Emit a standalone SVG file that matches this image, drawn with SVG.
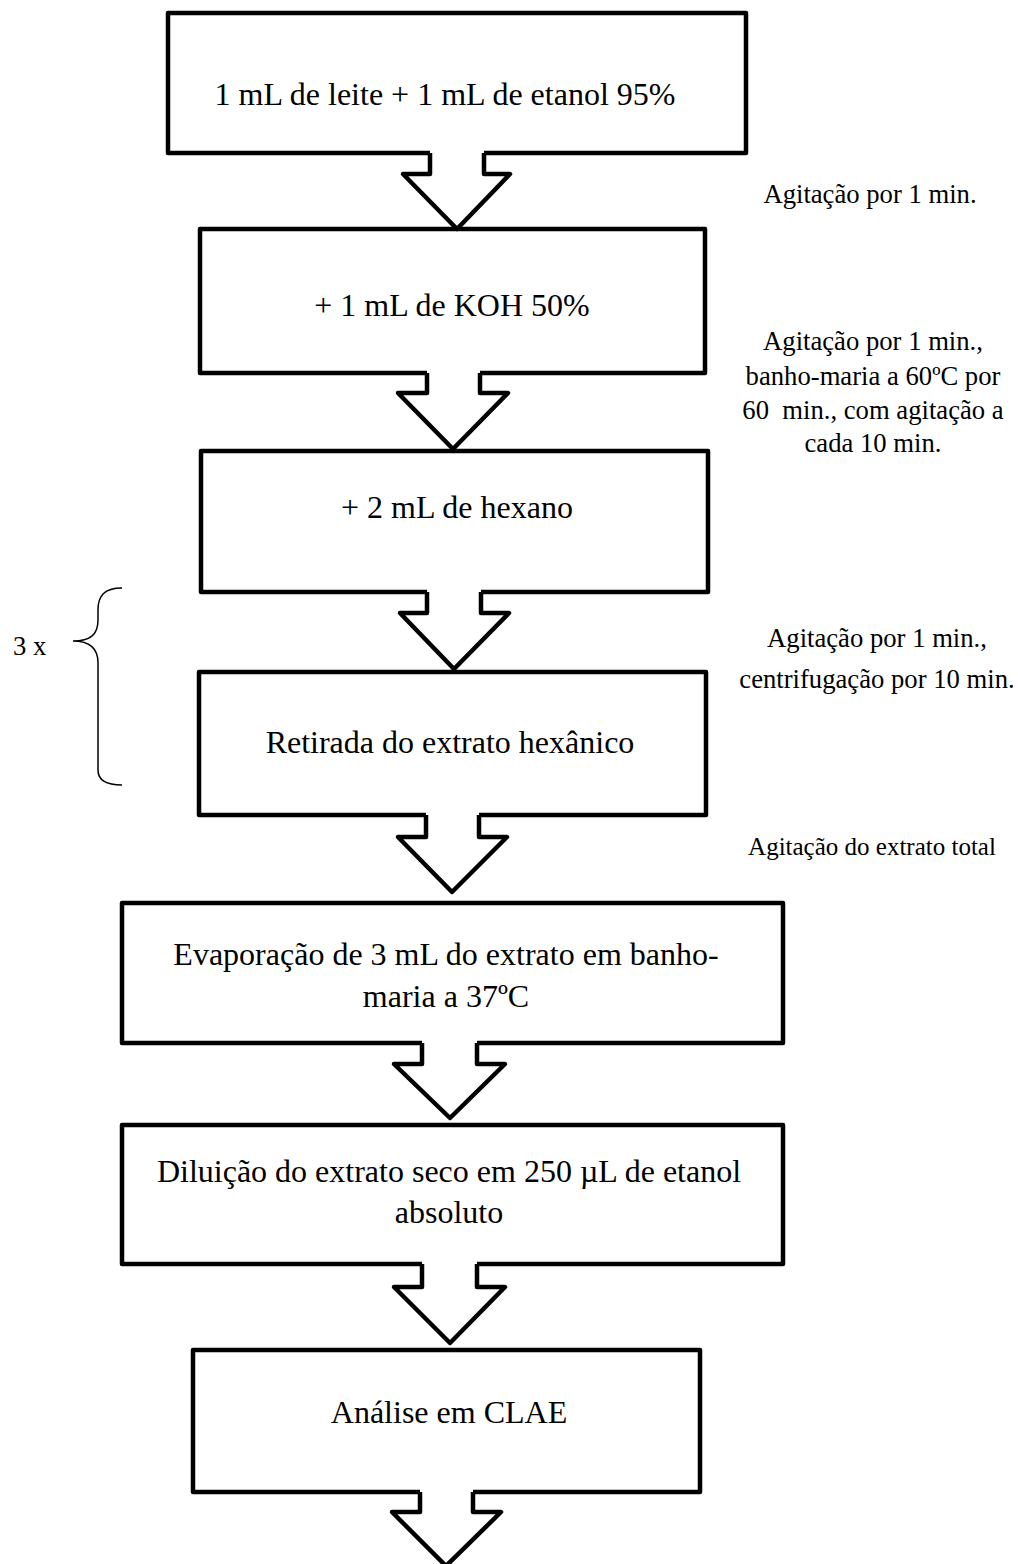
<svg xmlns="http://www.w3.org/2000/svg" width="1018" height="1564" viewBox="0 0 1018 1564">
<style>
.box{fill:#fff;stroke:#000;stroke-width:4.5;stroke-linejoin:round}
.arr{fill:none;stroke:#000;stroke-width:4.5;stroke-linejoin:round}
.arrfill{fill:#fff;stroke:none}
.t{font-family:"Liberation Serif","Times New Roman",serif;font-size:32px;fill:#000;text-anchor:middle}
.s{font-family:"Liberation Serif","Times New Roman",serif;font-size:26.67px;fill:#000;text-anchor:middle}
.brace{fill:none;stroke:#000;stroke-width:1.5}
</style>
<rect width="1018" height="1564" fill="#fff"/>
<g id="node1"><rect class="box" x="168" y="13" width="578" height="140"/><text class="t" x="445" y="105">1 mL de leite + 1 mL de etanol 95%</text></g>
<g id="node2"><rect class="box" x="200" y="229" width="505" height="144"/><text class="t" x="452" y="316">+ 1 mL de KOH 50%</text></g>
<g id="node3"><rect class="box" x="201" y="451" width="507" height="141"/><text class="t" x="457" y="518">+ 2 mL de hexano</text></g>
<g id="node4"><rect class="box" x="199" y="672" width="507" height="143"/><text class="t" x="450" y="753">Retirada do extrato hexânico</text></g>
<g id="node5"><rect class="box" x="122" y="903" width="661" height="140"/><text class="t" x="446" y="965">Evaporação de 3 mL do extrato em banho-</text><text class="t" x="446" y="1007">maria a 37ºC</text></g>
<g id="node6"><rect class="box" x="122" y="1125" width="661" height="139"/><text class="t" x="449" y="1182">Diluição do extrato seco em 250 µL de etanol</text><text class="t" x="449" y="1223">absoluto</text></g>
<g id="node7"><rect class="box" x="193" y="1350" width="507" height="142"/><text class="t" x="449" y="1423">Análise em CLAE</text></g>
<g id="connectors">
<polygon class="arrfill" points="430,150 484,150 484,174 510,174 457,229 403,174 430,174"/>
<path class="arr" d="M430,153 L430,174 L403,174 L457,229 L510,174 L484,174 L484,153"/>
<polygon class="arrfill" points="427,370 480,370 480,393 508,393 453,449 398,393 427,393"/>
<path class="arr" d="M427,373 L427,393 L398,393 L453,449 L508,393 L480,393 L480,373"/>
<polygon class="arrfill" points="427,589 481,589 481,613 509,613 454,669 400,613 427,613"/>
<path class="arr" d="M427,592 L427,613 L400,613 L454,669 L509,613 L481,613 L481,592"/>
<polygon class="arrfill" points="426,812 479,812 479,837 507,837 452,892 398,837 426,837"/>
<path class="arr" d="M426,815 L426,837 L398,837 L452,892 L507,837 L479,837 L479,815"/>
<polygon class="arrfill" points="422,1040 477,1040 477,1064 505,1064 450,1118 394,1064 422,1064"/>
<path class="arr" d="M422,1043 L422,1064 L394,1064 L450,1118 L505,1064 L477,1064 L477,1043"/>
<polygon class="arrfill" points="422,1261 477,1261 477,1287 505,1287 450,1343 394,1287 422,1287"/>
<path class="arr" d="M422,1264 L422,1287 L394,1287 L450,1343 L505,1287 L477,1287 L477,1264"/>
<polygon class="arrfill" points="420,1489 473,1489 473,1512 501,1512 446,1566 392,1512 420,1512"/>
<path class="arr" d="M420,1492 L420,1512 L392,1512 L446,1566 L501,1512 L473,1512 L473,1492"/>
</g>
<g id="labels">
<text class="s" x="870" y="203">Agitação por 1 min.</text>
<text class="s" x="873" y="350">Agitação por 1 min.,</text>
<text class="s" x="873" y="385">banho-maria a 60ºC por</text>
<text class="s" x="873" y="419" style="white-space:pre">60  min., com agitação a</text>
<text class="s" x="873" y="452">cada 10 min.</text>
<text class="s" x="877" y="647">Agitação por 1 min.,</text>
<text class="s" x="877" y="688">centrifugação por 10 min.</text>
<text class="s" x="872" y="855" style="font-size:25px">Agitação do extrato total</text>
</g>
<g id="brace">
<path class="brace" d="M122,588 C104,588 98,596 98,610 L98,620 C98,635 90,641 73,641 C90,641 98,648 98,663 L98,770 C98,780 106,785 122,785"/>
<text class="s" x="13" y="655" style="text-anchor:start">3 x</text>
</g>
</svg>
